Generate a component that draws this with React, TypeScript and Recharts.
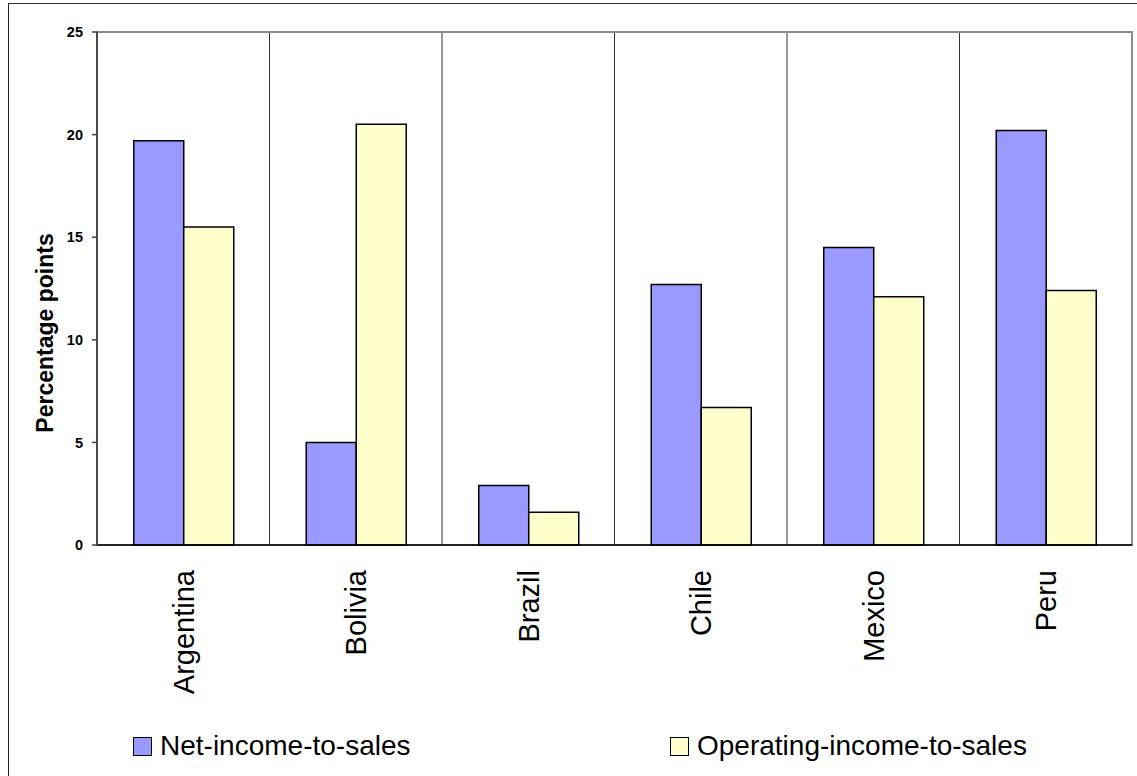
import React from 'react';
import { Bar, BarChart, CartesianGrid, Legend, ReferenceArea, XAxis, YAxis } from 'recharts';

const countries = ['Argentina', 'Bolivia', 'Brazil', 'Chile', 'Mexico', 'Peru'];
const netIncomeToSales = [19.7, 5.0, 2.9, 12.7, 14.5, 20.2];
const operatingIncomeToSales = [15.5, 20.5, 1.6, 6.7, 12.1, 12.4];
const yTicks = [0, 5, 10, 15, 20, 25];

const SERIES = [
    { key: 'net', name: 'Net-income-to-sales', color: '#9999FF' },
    { key: 'operating', name: 'Operating-income-to-sales', color: '#FFFFCC' }
];

const data = countries.map((country, i) => ({
    country,
    net: netIncomeToSales[i],
    operating: operatingIncomeToSales[i]
}));

const FONT = '"Liberation Sans", Arial, sans-serif';
const WIDTH = 1137;
const HEIGHT = 776;

// country names run bottom-to-top, ending just under the axis
const CountryTick = ({ x, y, payload }: any) => (
    <text
        x={x}
        y={y}
        dy="0.36em"
        transform={`rotate(-90 ${x} ${y})`}
        textAnchor="end"
        fontFamily={FONT}
        fontSize={29}
        fill="#000"
    >
        {payload.value}
    </text>
);

const LegendContent = () => (
    <svg width={900} height={40} style={{ display: 'block' }}>
        {SERIES.map((s, i) => (
            <g key={s.key} transform={`translate(${i * 537}, 0)`}>
                <rect x={0.5} y={12.5} width={18} height={18} fill={s.color} stroke="#000" />
                <text x={27} y={30} fontFamily={FONT} fontSize={28} fill="#000">
                    {s.name}
                </text>
            </g>
        ))}
    </svg>
);

// separators sit on the category boundaries, not on the ticks
const boundaryLines = ({ offset }: any) => {
    const left = offset?.left ?? 97;
    const w = offset?.width ?? 1035;
    return countries.map((_, i) => left + ((i + 1) * w) / countries.length);
};

export default function App() {
    return (
        <div style={{ position: 'absolute', left: 0, top: 0, width: WIDTH, height: HEIGHT, overflow: 'hidden', background: '#fff' }}>
            <div
                style={{
                    position: 'absolute',
                    left: 7.5,
                    top: 3.3,
                    width: WIDTH + 20,
                    height: HEIGHT + 20,
                    borderLeft: '1.5px solid #222',
                    borderTop: '1.5px solid #333'
                }}
            />
            <div style={{ position: 'absolute', left: 0, top: 0 }}>
                <BarChart
                    width={WIDTH}
                    height={HEIGHT}
                    data={data}
                    margin={{ top: 32, right: 5, bottom: 31, left: 0 }}
                    barCategoryGap="21.3%"
                    barGap={0}
                >
                    <CartesianGrid
                        horizontal={false}
                        stroke="#333"
                        strokeWidth={1}
                        verticalCoordinatesGenerator={boundaryLines}
                    />
                    <ReferenceArea y1={0} y2={25} fill="none" stroke="#8c8c8c" strokeWidth={2} ifOverflow="visible" />
                    <XAxis
                        dataKey="country"
                        height={200}
                        tickLine={false}
                        tickSize={0}
                        tickMargin={25}
                        axisLine={{ stroke: '#000', strokeWidth: 1.5 }}
                        tick={<CountryTick />}
                        interval={0}
                    />
                    <YAxis
                        width={97}
                        domain={[0, 25]}
                        ticks={yTicks}
                        interval={0}
                        axisLine={{ stroke: '#404040', strokeWidth: 1.7 }}
                        tickLine={{ stroke: '#404040', strokeWidth: 1.5 }}
                        tickSize={5}
                        tickMargin={9}
                        tick={{ fontFamily: FONT, fontSize: 14.5, fontWeight: 'bold', fill: '#000' }}
                        label={{
                            content: () => (
                                <text
                                    x={45}
                                    y={333}
                                    transform="rotate(-90 45 333)"
                                    textAnchor="middle"
                                    dominantBaseline="central"
                                    fontFamily={FONT}
                                    fontSize={23}
                                    fontWeight="bold"
                                    fill="#000"
                                >
                                    Percentage points
                                </text>
                            )
                        }}
                    />
                    <Legend
                        layout="horizontal"
                        verticalAlign="middle"
                        align="center"
                        content={<LegendContent />}
                        wrapperStyle={{ left: 133, top: 725, width: 900, height: 40, right: 'auto', bottom: 'auto' }}
                    />
                    {SERIES.map(s => (
                        <Bar
                            key={s.key}
                            dataKey={s.key}
                            name={s.name}
                            fill={s.color}
                            stroke="#000"
                            strokeWidth={1.5}
                            isAnimationActive={false}
                        />
                    ))}
                </BarChart>
            </div>
        </div>
    );
}
